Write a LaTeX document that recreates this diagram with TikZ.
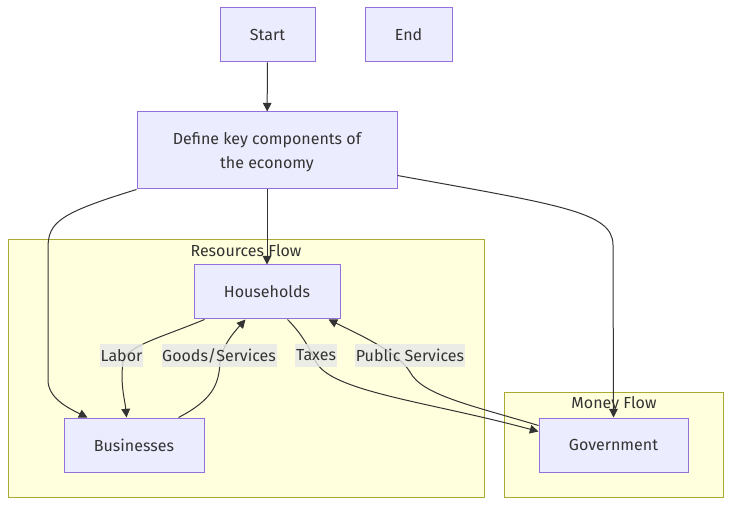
\documentclass[tikz,border=0pt]{standalone}
\usepackage{fontspec}
\setmainfont{Fira Sans}
\usetikzlibrary{arrows.meta,calc}
\definecolor{nodefill}{HTML}{ECECFF}
\definecolor{nodedraw}{HTML}{9370DB}
\definecolor{clfill}{HTML}{FFFFDE}
\definecolor{cldraw}{HTML}{AAAA33}
\definecolor{edgecol}{HTML}{333333}
\definecolor{lblbg}{HTML}{E8E8E8}
\tikzset{
  box/.style={draw=nodedraw, fill=nodefill, line width=0.75pt, inner sep=0pt,
    minimum height=40.5pt, text=edgecol, font=\fontsize{12}{18}\selectfont, align=center},
  cluster/.style={draw=cldraw, fill=clfill, line width=0.75pt},
  cltitle/.style={text=edgecol, font=\fontsize{12}{14}\selectfont, inner sep=0pt},
  edge/.style={draw=edgecol, line width=0.75pt, -{Triangle[length=6.5pt,width=6.5pt]}},
  lbl/.style={fill=lblbg, fill opacity=0.8, text opacity=1, text=edgecol,
    font=\fontsize{12}{14}\selectfont, inner sep=0pt, minimum height=17pt, inner xsep=0.5pt}
}
\begin{document}
\begin{tikzpicture}[x=0.75pt,y=-0.75pt]
\useasboundingbox (0,0) rectangle (731,505);
% clusters
\draw[cluster] (8,240) rectangle (484,497);
\draw[cluster] (504,393) rectangle (723,497);
\node[cltitle] (rtitle) at (246,251) {Resources Flow};
\node[cltitle] (mtitle) at (614,404) {Money Flow};
% nodes
\node[box, minimum width=71.25pt] (start) at (267.5,35) {Start};
\node[box, minimum width=65.25pt] (end) at (408.5,35) {End};
\node[box, minimum width=195pt, minimum height=57.75pt, text depth=-1.5pt] (def) at (267,150.5) {Define key components of\\the economy};
\node[box, minimum width=109.5pt] (hh) at (267,292) {Households};
\node[box, minimum width=105pt] (bus) at (134,445) {Businesses};
\node[box, minimum width=111.75pt] (gov) at (613.5,445) {Government};
% edges
\draw[edge] (start) -- (def);
\draw[edge] (def) -- (hh);
\draw[edge] (def.south west) .. controls (60,213) and (48,222) .. (48,248)
  -- (48,380) .. controls (48,398) and (68,408) .. ($(bus.north west)+(24,0)$);
\draw[edge] ($(def.south east)+(0,-14)$) .. controls (560,205) and (613,212) .. (613,245)
  -- (gov.north);
% Labor
\draw[edge] ($(hh.south west)+(11,0)$) .. controls (160,338) and (126,346) .. (123,362)
  .. controls (120,385) and (125,400) .. ($(bus.north west)+(63,0)$);
% Goods/Services
\draw[edge] ($(bus.north west)+(115,0)$) .. controls (212,400) and (219,385) .. (220,362)
  .. controls (222,345) and (236,330) .. ($(hh.south west)+(52,0)$);
% Taxes
\draw[edge] ($(hh.south west)+(94,0)$) .. controls (300,332) and (308,345) .. (316,362)
  .. controls (332,392) and (430,402) .. ($(gov.north west)+(0,14)$);
% Public Services
\draw[edge] ($(gov.north west)+(0,8)$) .. controls (470,405) and (422,395) .. (410,372)
  .. controls (398,352) and (360,335) .. ($(hh.south east)+(-12,0)$);
% labels
\node[lbl] (lLabor) at (121.5,355.5) {Labor};
\node[lbl] (lGoods) at (219,355.5) {Goods/Services};
\node[lbl] (lTaxes) at (316,355.5) {Taxes};
\node[lbl] (lPub) at (410,355.5) {Public Services};
\end{tikzpicture}
\end{document}
